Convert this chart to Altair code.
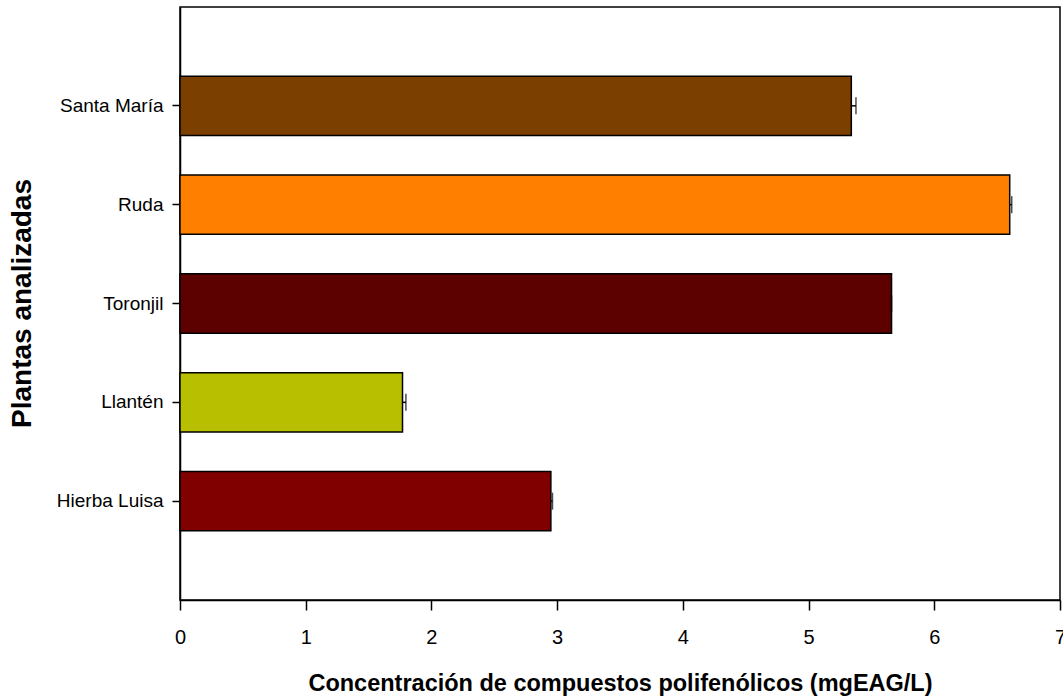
import altair as alt
import pandas as pd

# Polyphenol concentration per plant extract (mg gallic-acid equivalents / L)
plantas = ["Santa María", "Ruda", "Toronjil", "Llantén", "Hierba Luisa"]
concentracion = [5.34, 6.60, 5.66, 1.77, 2.95]
error = [0.037, 0.016, 0.0, 0.027, 0.013]
colores = ["#7B3F00", "#FF8000", "#5C0000", "#B8BF00", "#800000"]
ticks_x = [0, 1, 2, 3, 4, 5, 6, 7]

df = pd.DataFrame({
    "planta": plantas,
    "valor": concentracion,
    "err": error,
    "color": colores,
})
df["sup"] = df["valor"] + df["err"]

FONT = "Liberation Sans, Arial, sans-serif"

y_enc = alt.Y(
    "planta:N",
    sort=plantas,
    scale=alt.Scale(paddingInner=0.4, paddingOuter=0.7),
    axis=alt.Axis(
        title="Plantas analizadas",
        titleFont=FONT,
        titleFontSize=28,
        titleFontWeight="bold",
        titleColor="black",
        titleAngle=-90,
        titleAlign="center",
        titleBaseline="middle",
        titleX=-158,
        titleY=296,
        labelFont=FONT,
        labelFontSize=19,
        labelColor="black",
        labelPadding=9,
        tickSize=8,
        tickColor="black",
        tickWidth=1.5,
        domainColor="black",
        domainWidth=1.5,
    ),
)

x_enc = alt.X(
    "valor:Q",
    scale=alt.Scale(domain=[0, 7], nice=False, zero=True),
    axis=alt.Axis(
        title="Concentración de compuestos polifenólicos (mgEAG/L)",
        titleFont=FONT,
        titleFontSize=23.5,
        titleFontWeight="bold",
        titleColor="black",
        titleBaseline="alphabetic",
        titleY=90,
        values=ticks_x,
        format="d",
        grid=False,
        labelFont=FONT,
        labelFontSize=20,
        labelColor="black",
        labelBaseline="alphabetic",
        labelPadding=33,
        labelFlush=False,
        tickSize=10,
        tickColor="black",
        tickWidth=1.5,
        domainColor="black",
        domainWidth=1.5,
    ),
)

bars = alt.Chart(df).mark_bar(stroke="black", strokeWidth=1.5).encode(
    x=x_enc,
    y=y_enc,
    color=alt.Color("color:N", scale=None),
)

whiskers = alt.Chart(df).mark_rule(color="black", strokeWidth=1.5).encode(
    x="valor:Q",
    x2="sup:Q",
    y=alt.Y("planta:N", sort=plantas),
)

caps = alt.Chart(df).mark_tick(
    orient="vertical", size=17, thickness=1.5, color="black"
).encode(
    x="sup:Q",
    y=alt.Y("planta:N", sort=plantas),
)

chart = (
    alt.layer(bars, whiskers, caps)
    .properties(
        width=880,
        height=593,
        padding={"left": 180, "top": 7, "right": 3, "bottom": 98},
        autosize=alt.AutoSizeParams(type="none"),
        background="white",
    )
    .configure_view(stroke="black", strokeWidth=1.5)
)

chart.save("out.html", embed_options={"renderer": "svg", "actions": False})
